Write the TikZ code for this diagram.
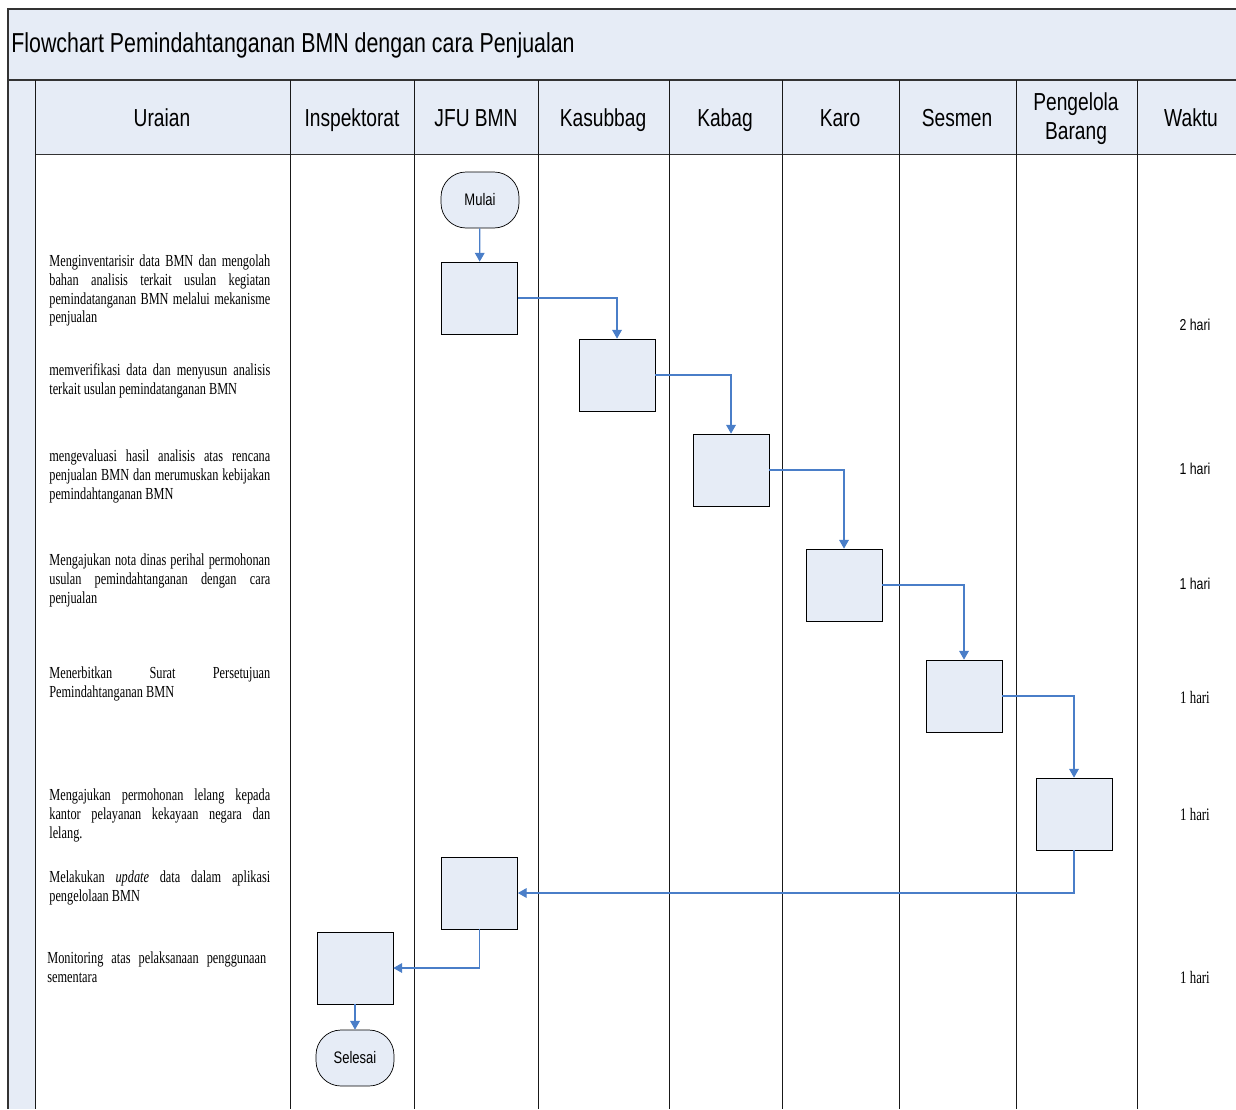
\documentclass[tikz,border=0pt]{standalone}
\usepackage{fontspec}
\setmainfont{Liberation Serif}[FakeStretch=0.73]
\setsansfont{Liberation Sans}[FakeStretch=0.78]
\usepackage{tikz}
\usetikzlibrary{positioning,arrows,arrows.meta}
\definecolor{lane}{HTML}{E6ECF6}
\definecolor{flow}{HTML}{4A7EC8}
\newcommand{\nohyph}{\hyphenpenalty=10000 \exhyphenpenalty=10000 \relax}
\tikzstyle{Step} = [rectangle, draw=black, fill=lane, thin,
    minimum width=1.52cm, minimum height=1.44cm, inner sep=0pt]
\tikzstyle{Term} = [rectangle, rounded corners=0.5cm, draw=black, fill=lane, thin,
    minimum width=1.56cm, minimum height=1.12cm, font=\sffamily\fontsize{9.5}{11}\selectfont]
\tikzstyle{Desc} = [anchor=north west, inner sep=0pt, text width=4.42cm, align=justify,
    font=\fontsize{9.6}{10.8}\selectfont, execute at begin node=\nohyph]
\tikzstyle{Head} = [anchor=base, align=center, font=\sffamily\fontsize{14}{16.5}\selectfont]
\tikzstyle{Time} = [font=\sffamily\fontsize{9}{11}\selectfont]
\tikzstyle{TimeR} = [font=\fontsize{10}{11}\selectfont]
\tikzstyle{arrow} = [draw=flow, line width=0.7pt, -{Triangle[length=5pt,width=5.5pt]}]

\begin{document}
\begin{tikzpicture}[x=0.02cm, y=-0.02cm]
        \useasboundingbox (0,0) rectangle (1236,1109);
        \fill [lane] (8,9) rectangle (1236,80); %title band
        \fill [lane] (35,80) rectangle (1236,154); %header row
        \fill [lane] (8,80) rectangle (35,1109); %left strip
        \draw [black!80, thick] (1236,9) -- (8,9) -- (8,1109);
        \draw [black!80, line width=1.2pt] (8,80) -- (1236,80);
        \draw [black!80] (35,154) -- (1236,154);
        \foreach \x in {35,290,414,538,669,782,899,1016,1137}
            \draw [black!90] (\x,80) -- (\x,1109);
        \node [anchor=west, inner sep=0pt, font=\sffamily\fontsize{15.6}{18}\selectfont] (Title) at (11,45)
            {Flowchart Pemindahtanganan BMN dengan cara Penjualan};
        \node [Head] (HUraian) at (162,126) {Uraian};
        \node [Head] (HInspektorat) at (352,126) {Inspektorat};
        \node [Head] (HJfu) at (476,126) {JFU BMN};
        \node [Head] (HKasubbag) at (603,126) {Kasubbag};
        \node [Head] (HKabag) at (725,126) {Kabag};
        \node [Head] (HKaro) at (840,126) {Karo};
        \node [Head] (HSesmen) at (957,126) {Sesmen};
        \node [Head, anchor=center] (HPengelola) at (1076,119) {Pengelola\\Barang};
        \node [Head] (HWaktu) at (1191,126) {Waktu};
        % uraian
        \node [Desc] (DInventaris) at (49,254) {Menginventarisir data BMN dan mengolah bahan analisis terkait usulan kegiatan pemindatanganan BMN melalui mekanisme penjualan};
        \node [Desc] (DVerifikasi) at (49,363) {memverifikasi data dan menyusun analisis terkait usulan pemindatanganan BMN};
        \node [Desc] (DEvaluasi) at (49,449) {mengevaluasi hasil analisis atas rencana penjualan BMN dan merumuskan kebijakan pemindahtanganan BMN};
        \node [Desc] (DNota) at (49,553) {Mengajukan nota dinas perihal permohonan usulan pemindahtanganan dengan cara penjualan};
        \node [Desc] (DSurat) at (49,666) {Menerbitkan Surat Persetujuan Pemindahtanganan BMN};
        \node [Desc] (DLelang) at (49,788) {Mengajukan permohonan lelang kepada kantor pelayanan kekayaan negara dan lelang.};
        \node [Desc] (DUpdate) at (49,870) {Melakukan \textit{update} data dalam aplikasi pengelolaan BMN};
        \node [Desc, text width=4.38cm] (DMonitor) at (47,951) {Monitoring atas pelaksanaan penggunaan sementara};
        % waktu
        \node [Time] (W1) at (1195,325) {2 hari};
        \node [Time] (W2) at (1195,469) {1 hari};
        \node [Time] (W3) at (1195,584) {1 hari};
        \node [TimeR] (W4) at (1195,697) {1 hari};
        \node [TimeR] (W5) at (1195,814) {1 hari};
        \node [TimeR] (W6) at (1195,977) {1 hari};
        % flow
        \node [Term] (Mulai) at (480,200) {Mulai};
        \node [Step] (Inventaris) at (479.5,298) {}; %jfu
        \node [Step] (Verifikasi) at (617,375) {}; %kasubbag
        \node [Step] (Evaluasi) at (731,470) {}; %kabag
        \node [Step] (Nota) at (844,585) {}; %karo
        \node [Step] (Surat) at (964,696) {}; %sesmen
        \node [Step] (Lelang) at (1074,814) {}; %pengelola
        \node [Step] (Update) at (479.5,893) {}; %jfu
        \node [Step] (Monitor) at (355,968) {}; %inspektorat
        \node [Term] (Selesai) at (355,1058) {Selesai};
        \draw [arrow] (Mulai) -- (Inventaris);
        \draw [arrow] (Inventaris.east) -| (Verifikasi.north);
        \draw [arrow] (Verifikasi.east) -| (Evaluasi.north);
        \draw [arrow] (Evaluasi.east) -| (Nota.north);
        \draw [arrow] (Nota.east) -| (Surat.north);
        \draw [arrow] (Surat.east) -| (Lelang.north);
        \draw [arrow] (Lelang.south) |- (Update.east);
        \draw [arrow] (Update.south) |- (Monitor.east);
        \draw [arrow] (Monitor) -- (Selesai);
    \end{tikzpicture}
\end{document}
